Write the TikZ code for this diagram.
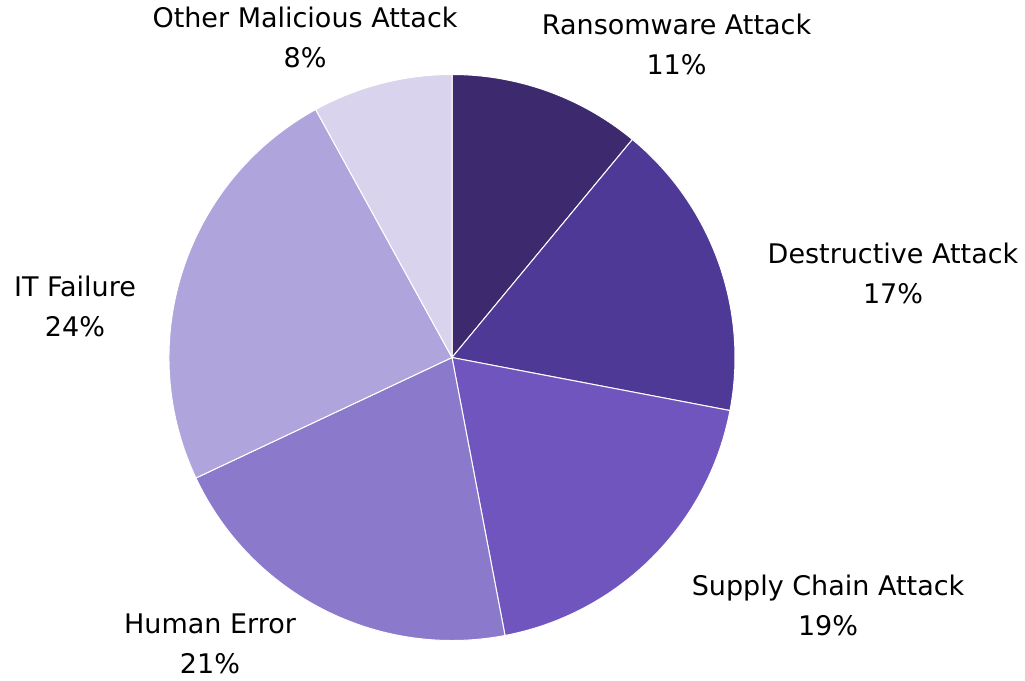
\documentclass[tikz,border=0pt]{standalone}
\usepackage{fontspec}
\setmainfont{DejaVu Sans}
\definecolor{cRan}{HTML}{3D2A6E}
\definecolor{cDes}{HTML}{4E3996}
\definecolor{cSup}{HTML}{7055BE}
\definecolor{cHum}{HTML}{8B7ACB}
\definecolor{cIT}{HTML}{B0A4DC}
\definecolor{cOth}{HTML}{D9D3EE}
\tikzset{
  slice/.style={draw=white, line width=1pt, line join=round},
  lbl/.style={align=center, font=\fontsize{27}{40}\selectfont, inner sep=0pt}
}
\begin{document}
\begin{tikzpicture}[x=1pt,y=1pt]
\useasboundingbox (0,-680) rectangle (1025,0);
\coordinate (c) at (452,-357.5);
\def\R{283}
\filldraw[slice, fill=cRan] (c) -- ++(90:\R) arc (90:50.4:\R) -- cycle;
\filldraw[slice, fill=cDes] (c) -- ++(50.4:\R) arc (50.4:-10.8:\R) -- cycle;
\filldraw[slice, fill=cSup] (c) -- ++(-10.8:\R) arc (-10.8:-79.2:\R) -- cycle;
\filldraw[slice, fill=cHum] (c) -- ++(-79.2:\R) arc (-79.2:-154.8:\R) -- cycle;
\filldraw[slice, fill=cIT] (c) -- ++(-154.8:\R) arc (-154.8:-241.2:\R) -- cycle;
\filldraw[slice, fill=cOth] (c) -- ++(118.8:\R) arc (118.8:90:\R) -- cycle;
\node[lbl] (ran) at (676.5,-44) {Ransomware Attack\\11\%};
\node[lbl] (des) at (893,-273) {Destructive Attack\\17\%};
\node[lbl] (sup) at (828,-605) {Supply Chain Attack\\19\%};
\node[lbl] (hum) at (210,-644) {Human Error\\21\%};
\node[lbl] (it) at (75,-306) {IT Failure\\24\%};
\node[lbl] (oth) at (305,-37.5) {Other Malicious Attack\\8\%};
\end{tikzpicture}
\end{document}
